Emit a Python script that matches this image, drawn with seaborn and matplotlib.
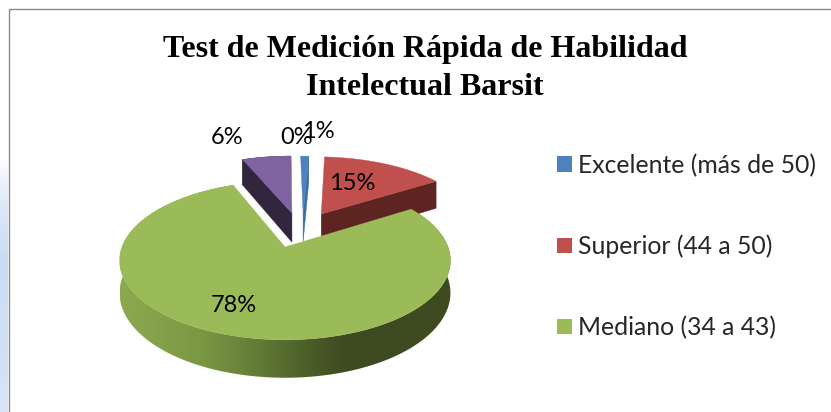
import numpy as np
import matplotlib
matplotlib.use("Agg")
import matplotlib.pyplot as plt
import seaborn as sns
from matplotlib.patches import Patch, Polygon
from matplotlib.colors import LinearSegmentedColormap

categories = ["Excelente (más de 50)", "Superior (44 a 50)", "Mediano (34 a 43)", "Normal", "Inferior"]
values = [1, 15, 78, 0, 6]
value_labels = ["1%", "15%", "78%", "0%", "6%"]
colors = ["#4F81BD", "#C0504D", "#9BBB59", "#4BACC6", "#8064A2"]
side_colors = ["#3A6CA6", "#5E2422", None, None, "#32263F"]
legend_shown = 3
title = "Test de Medición Rápida de Habilidad\nIntelectual Barsit"

sns.set_theme(style="white")
sns.set_palette(colors)
fig = plt.figure(figsize=(8.31, 4.12), dpi=100, facecolor="white")
ax = fig.add_axes([0, 0, 1, 1])

# The pie supplies each slice's angles; they are then projected in perspective.
wedges, _ = ax.pie(values, startangle=90, counterclock=False, colors=colors)
angles = [((90 - w.theta2) % 360, (90 - w.theta2) % 360 + (w.theta2 - w.theta1)) for w in wedges]
for w in wedges:
    w.remove()
ax.set_aspect("auto")
ax.set_xlim(0, 831)
ax.set_ylim(412, 0)
ax.axis("off")

CX, CY, R, A, K, DEPTH = 285, 247, 163, 77, 0.17, 31.5
offsets = [(0.12, 0.477), (0.24, 0.462), (0, 0), (0, 0), (0.046, 0.477)]


def project(u, v, z=0.0):
    s = 1 / (1 + K * v)
    return CX + R * u * s, CY - A * v * s + z * DEPTH * s


def rim(deg, off):
    t = np.radians(deg)
    return np.sin(t) + off[0], np.cos(t) + off[1]


def top_face(i, zorder):
    a0, a1 = angles[i]
    off = offsets[i]
    ts = np.linspace(a0, a1, 200)
    pts = [project(*off)] + [project(*rim(t, off)) for t in ts]
    ax.add_patch(Polygon(pts, closed=True, fc=colors[i], ec=colors[i], lw=0.3, zorder=zorder))


def radial_side(i, deg, zorder):
    off = offsets[i]
    ru, rv = rim(deg, off)
    pts = [project(*off), project(ru, rv), project(ru, rv, 1), project(off[0], off[1], 1)]
    ax.add_patch(Polygon(pts, closed=True, fc=side_colors[i], ec=side_colors[i], lw=0.3, zorder=zorder))


def rim_side(i, color, zorder):
    a0, a1 = angles[i]
    off = offsets[i]
    ts = np.linspace(a0, a1, 60)
    pts = [project(*rim(t, off)) for t in ts] + [project(*rim(t, off), 1) for t in ts[::-1]]
    ax.add_patch(Polygon(pts, closed=True, fc=color, ec=color, lw=0.3, zorder=zorder))


# purple
rim_side(4, side_colors[4], 2)
radial_side(4, angles[4][0], 2.1)
top_face(4, 2.2)
# blue
radial_side(0, angles[0][1], 3.1)
top_face(0, 3.2)
# red
radial_side(1, angles[1][1], 4.1)
top_face(1, 4.2)

# green: outer wall with a shaded gradient clipped to the wall outline, then the top face
cmap = LinearSegmentedColormap.from_list(
    "wall", [(0, "#8DA94F"), (0.35, "#7C9843"), (0.62, "#627B36"), (0.85, "#4A5C28"), (1, "#3E4A20")]
)
a0, a1 = angles[2]
ts = np.linspace(a0, a1, 400)
wall = [project(*rim(t, offsets[2])) for t in ts] + [project(*rim(t, offsets[2]), 1) for t in ts[::-1]]
wall_patch = Polygon(wall, closed=True, fc="none", ec="none", zorder=5, transform=ax.transData)
ax.add_patch(wall_patch)
ramp = np.clip((np.arange(120, 451) - 120) / 225, 0, 1)[None, :]
img = ax.imshow(ramp, extent=(120, 451, 385, 180), aspect="auto", cmap=cmap, zorder=5,
                interpolation="bilinear")
img.set_clip_path(wall_patch)
top_face(2, 6)

# data labels
label_font = ["Lato", "DejaVu Sans"]
label_pos = {0: (318, 131.5), 1: (352, 183.5), 2: (234, 305.5), 3: (297, 137.5), 4: (227, 137.5)}
for i, txt in enumerate(value_labels):
    ax.text(*label_pos[i], txt, ha="center", va="center", fontsize=17, color="black",
            family=label_font, zorder=10)

ax.text(425, 68.5, title, ha="center", va="center", fontsize=23, fontweight="bold",
        family="Liberation Serif", color="black", linespacing=1.4, zorder=10)

# legend (only the first three entries fit in the chart)
handles = [Patch(fc=colors[i], ec="none", label=categories[i]) for i in range(legend_shown)]
leg = ax.legend(handles=handles, loc="upper left", bbox_to_anchor=(0.670, 0.627), frameon=False,
                prop={"family": "Lato", "size": 17.8}, handlelength=0.6, handleheight=0.6,
                handletextpad=0.25, labelspacing=2.33, borderpad=0, borderaxespad=0)

# page background and chart frame
strip = np.linspace(0, 1, 256)[:, None]
strip_cmap = LinearSegmentedColormap.from_list(
    "page", [(0, "#FFFFFF"), (0.38, "#FFFFFF"), (0.5, "#DCE8F7"), (0.62, "#CBDDF5"), (0.85, "#CFE0F6"), (1, "#D8E6F8")]
)
ax.imshow(strip, extent=(0, 8, 412, 0), aspect="auto", cmap=strip_cmap, zorder=0)
ax.set_xlim(0, 831)
ax.set_ylim(412, 0)
ax.plot([8.5, 8.5, 831], [412, 8.5, 8.5], color="#8C8C8C", lw=1.0, zorder=1, solid_joinstyle="miter")

fig.savefig("out.png", dpi=100, facecolor="white")
